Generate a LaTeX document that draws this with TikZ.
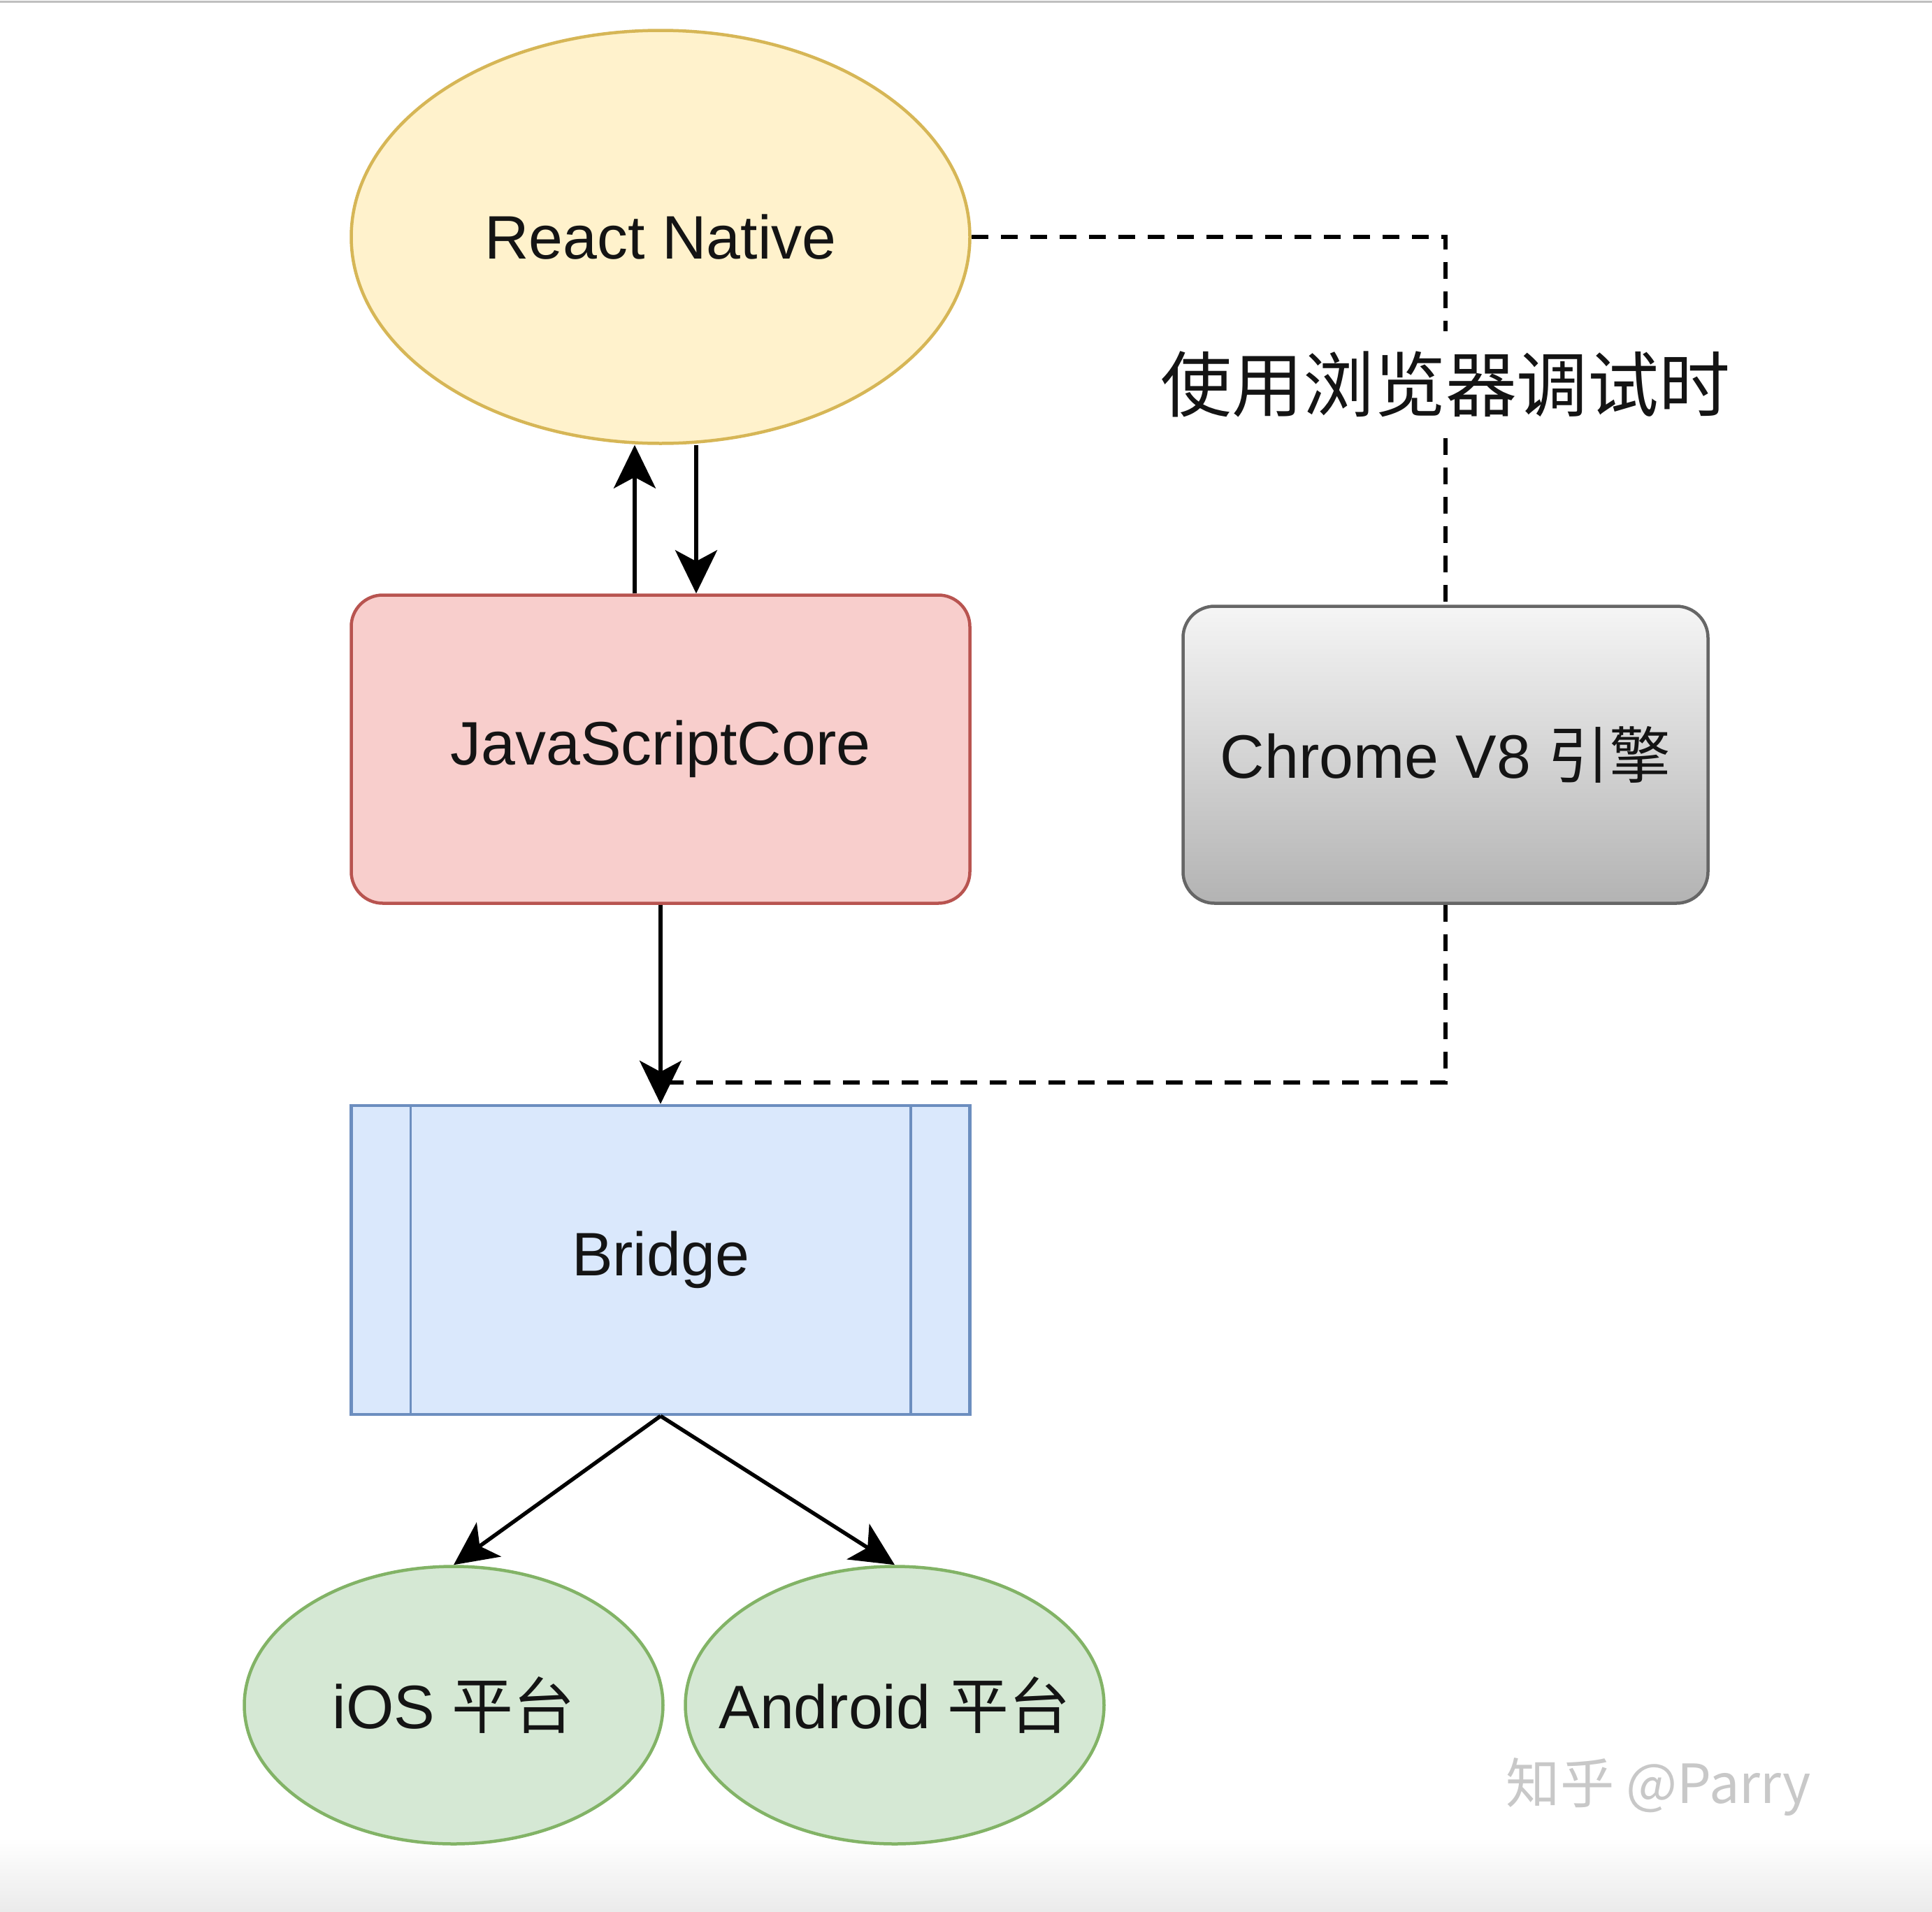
\documentclass[tikz,border=0pt]{standalone}
\usepackage{fontspec}
\setmainfont{Liberation Sans}
\newfontfamily\cjk{Noto Sans CJK SC}
\usetikzlibrary{shapes.geometric, positioning, arrows.meta}

\definecolor{txt}{HTML}{141414}
\definecolor{rnfill}{HTML}{FFF2CC}
\definecolor{rnline}{HTML}{D6B656}
\definecolor{jscfill}{HTML}{F8CECC}
\definecolor{jscline}{HTML}{B85450}
\definecolor{brfill}{HTML}{DAE8FC}
\definecolor{brline}{HTML}{6C8EBF}
\definecolor{v8top}{HTML}{F5F5F5}
\definecolor{v8bot}{HTML}{B3B3B3}
\definecolor{v8line}{HTML}{666666}
\definecolor{osfill}{HTML}{D5E8D4}
\definecolor{osline}{HTML}{82B366}
\definecolor{wmark}{HTML}{C8C8C8}

\begin{document}
\begin{tikzpicture}
	[on grid,
	 every node/.style={text=txt, inner sep=0pt, font=\fontsize{25}{30}\selectfont},
	 every label/.style={text=txt, inner sep=0pt, font=\fontsize{25}{30}\selectfont},
	 blob/.style={ellipse, draw, line width=0.045cm},
	 box/.style={rectangle, draw, line width=0.045cm, minimum width=8.85cm, minimum height=4.41cm},
	 arr/.style={-{Stealth[length=0.62cm, width=0.6cm, inset=0.16cm]}, line width=0.055cm},
	 dash line/.style={line width=0.055cm, dash pattern=on 0.24cm off 0.18cm}]
   \useasboundingbox (0,0) rectangle (27.64,-27.36);
   \shade[top color=white, bottom color=black!8] (0,-26.3) rectangle (27.64,-27.36);
   \draw[black!25, line width=0.03cm] (0,-0.02) -- (27.64,-0.02);

   \node[blob, fill=rnfill, draw=rnline, minimum width=8.85cm, minimum height=5.91cm] (rn) at (9.45,-3.39) {React Native};
   \node[box, rounded corners=0.45cm, fill=jscfill, draw=jscline] (jsc) [below=7.33cm of rn] {\raisebox{-0.08cm}{JavaScriptCore}};
   \node[box, fill=brfill, draw=brline, minimum height=4.42cm] (bridge) [below=7.31cm of jsc] {Bridge};
   \node[box, rounded corners=0.45cm, draw=v8line, top color=v8top, bottom color=v8bot,
         minimum width=7.51cm, minimum height=4.25cm] (v8) at (20.68,-10.80) {Chrome V8 {\cjk 引擎}};
   \node[blob, fill=osfill, draw=osline, minimum width=5.99cm, minimum height=3.97cm,
         label=center:{iOS {\cjk 平台}}] (ios) at (6.49,-24.40) {};
   \node[blob, fill=osfill, draw=osline, minimum width=5.99cm, minimum height=3.97cm,
         label=center:{Android {\cjk 平台}}] (android) [right=6.31cm of ios] {};
   \node[text=wmark, font=\cjk\fontsize{22}{26}\selectfont] (mark) at (23.73,-25.57) {知乎 @Parry};
   \coordinate (dash_end) at (9.45,-15.49);

   % side bars of the bridge
   \draw[brline, line width=0.035cm] ([xshift=0.87cm]bridge.north west) -- ([xshift=0.87cm]bridge.south west);
   \draw[brline, line width=0.035cm] ([xshift=-0.87cm]bridge.north east) -- ([xshift=-0.87cm]bridge.south east);

   \draw[arr] ([xshift=-0.37cm]jsc.north) -- ([xshift=-0.37cm]jsc.north |- rn.south);
   \draw[arr] ([xshift=0.51cm]jsc.north |- rn.south) -- ([xshift=0.51cm]jsc.north);
   \draw[arr] (jsc) -- (bridge);
   \draw[arr] (bridge.south) -- (ios.north);
   \draw[arr] (bridge.south) -- (android.north);

   \draw[dash line] (rn.east) -| (v8.north)
         node[pos=0.7, fill=white, inner ysep=0.28cm, inner xsep=0.05cm, font=\cjk\fontsize{29}{34}\selectfont] (debug) {使用浏览器调试时};
   \draw[dash line] (v8.south) |- (dash_end);

\end{tikzpicture}
\end{document}
